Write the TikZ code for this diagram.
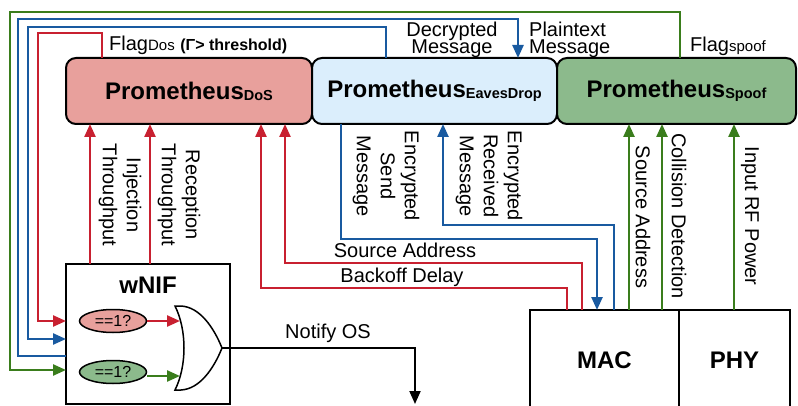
\documentclass[tikz,border=0pt]{standalone}
\usepackage{fontspec}
\setmainfont{Liberation Sans}
\usetikzlibrary{arrows.meta,shapes.geometric}
\definecolor{cred}{RGB}{200,32,48}
\definecolor{cblue}{RGB}{25,90,160}
\definecolor{cgreen}{RGB}{58,125,28}
\definecolor{fdos}{RGB}{232,160,156}
\definecolor{feav}{RGB}{219,238,252}
\definecolor{fspf}{RGB}{140,186,140}
\newcommand\promlabel[1]{{\fontsize{24}{28}\selectfont\bfseries Prometheus\raisebox{-1pt}{\fontsize{14.5}{16}\selectfont #1}}}
\begin{document}
\begin{tikzpicture}[x=1pt,y=-1pt,
  rl/.style={draw=cred,line width=2.4pt},
  bl/.style={draw=cblue,line width=2.4pt},
  gl/.style={draw=cgreen,line width=2.4pt},
  tip/.style={-{Triangle[length=13pt,width=11pt]}},
  pbox/.style={draw=black,line width=2pt,rounded corners=10pt,minimum width=#1,minimum height=66pt,inner sep=0pt,outer sep=0pt},
  sbox/.style={draw=black,line width=2pt,minimum height=140pt,inner sep=0pt,outer sep=0pt,anchor=north west},
  lbl/.style={inner sep=0pt,font=\fontsize{20}{24}\selectfont},
  rot/.style={inner sep=0pt,rotate=-90,align=center,font=\fontsize{20}{24}\selectfont},
  big/.style={inner sep=0pt,font=\fontsize{24}{28}\selectfont\bfseries},
  tight/.style={inner sep=0pt,font=\fontsize{20}{19}\selectfont},
  cmp/.style={ellipse,draw=black,line width=1.5pt,minimum width=67pt,minimum height=23pt,inner sep=0pt,font=\fontsize{16}{18}\selectfont}
]
\useasboundingbox (0,0) rectangle (798,406);
\clip (0,0) rectangle (798,406);
\fill[white] (0,0) rectangle (798,406);

% Prometheus boxes
\node[pbox=246pt,fill=fdos] (dos) at (189,91) {\promlabel{DoS}};
\node[pbox=245pt,fill=feav] (eav) at (434.5,91) {\promlabel{EavesDrop}};
\node[pbox=239pt,fill=fspf] (spf) at (676.5,91) {\promlabel{Spoof}};

% lower boxes
\node[sbox,minimum width=164pt] (wnif) at (66,264) {};
\node[big,anchor=base] (wniflbl) at (148,293) {wNIF};
\node[sbox,minimum width=149pt] (mac) at (530,310) {};
\node[big,anchor=base] (maclbl) at (604.5,368) {MAC};
\node[sbox,minimum width=111pt] (phy) at (679,310) {};
\node[big,anchor=base] (phylbl) at (734.5,368) {PHY};

% comparators
\node[cmp,fill=fdos] (e1) at (113,321) {==1?};
\node[cmp,fill=fspf] (e2) at (113,372) {==1?};

% OR gate
\draw[line width=1.5pt,fill=white] (175,306) -- (181,306) .. controls (200,307) and (214,328) .. (222,348) .. controls (214,368) and (200,389) .. (181,390) -- (175,390) .. controls (187,366) and (187,330) .. (175,306) -- cycle;
\coordinate (orout) at (222,348);
\coordinate (orin1) at (180,321);
\coordinate (orin2) at (180,376);
\coordinate (os) at (415,404);
\draw[rl,tip] (e1.east) -- (orin1);
\draw[gl,tip] (e2.east |- orin2) -- (orin2);
\draw[line width=2pt,tip] (orout) -- (415,348) -- (os);
\node[lbl,anchor=base] (notify) at (328,338) {Notify OS};

% feedback lines to wNIF
\draw[gl,tip] (spf.north -| 680,0) -- (680,12) -- (10,12) -- (10,370) -- (wnif.west |- 0,370);
\draw[bl,tip] (wnif.west |- 0,356) -- (18,356) -- (18,19) -- (518,19) -- (eav.north -| 518,0);
\draw[bl,tip] (eav.north -| 386,0) -- (386,27) -- (28,27) -- (28,339) -- (wnif.west |- 0,339);
\draw[rl,tip] (dos.north -| 102,0) -- (102,33) -- (38,33) -- (38,321) -- (wnif.west |- 0,321);

% top labels
\node[anchor=base west,inner sep=0pt] (flagdos) at (109,51) {\fontsize{20}{24}\selectfont Flag{\fontsize{15}{18}\selectfont Dos} {\fontsize{16}{18}\selectfont\bfseries (Γ> threshold)}};
\node[tight,anchor=base,align=center] (decr) at (452,54) {Decrypted\\[-2pt]Message};
\node[tight,anchor=base west,align=left] (plain) at (529,54) {Plaintext\\[-2pt]Message};
\node[anchor=base west,inner sep=0pt] (flagspf) at (690,52) {\fontsize{20}{24}\selectfont Flag{\fontsize{15}{18}\selectfont spoof}};

% wNIF -> DoS
\draw[rl,tip] (wnif.north -| 90,0) -- (dos.south -| 90,0);
\draw[rl,tip] (wnif.north -| 150,0) -- (dos.south -| 150,0);
\node[rot] (inj) at (120,195) {Injection\\Throughput};
\node[rot] (rec) at (179,195) {Reception\\Throughput};

% MAC -> DoS
\draw[rl,tip] (mac.north -| 582,0) -- (582,263) -- (285,263) -- (dos.south -| 285,0);
\draw[rl,tip] (mac.north -| 567,0) -- (567,288) -- (261,288) -- (dos.south -| 261,0);
\node[lbl,anchor=base] (srcaddr) at (405,258) {Source Address};
\node[lbl,anchor=base] (backoff) at (402,283) {Backoff Delay};

% EavesDrop <-> MAC
\draw[bl,tip] (eav.south -| 341,0) -- (341,239) -- (597,239) -- (mac.north -| 597,0);
\draw[bl,tip] (mac.north -| 614,0) -- (614,225) -- (443,225) -- (eav.south -| 443,0);
\node[rot] (ens) at (386,176) {Encrypted\\Send\\Message};
\node[rot] (enr) at (489,176) {Encrypted\\Received\\Message};

% MAC/PHY -> Spoof
\draw[gl,tip] (mac.north -| 629,0) -- (spf.south -| 629,0);
\draw[gl,tip] (mac.north -| 662,0) -- (spf.south -| 662,0);
\draw[gl,tip] (phy.north -| 734,0) -- (spf.south -| 734,0);
\node[rot] (gsa) at (643,217) {Source Address};
\node[rot] (gcd) at (679,216) {Collision Detection};
\node[rot] (grf) at (750,216) {Input RF Power};
\end{tikzpicture}
\end{document}
